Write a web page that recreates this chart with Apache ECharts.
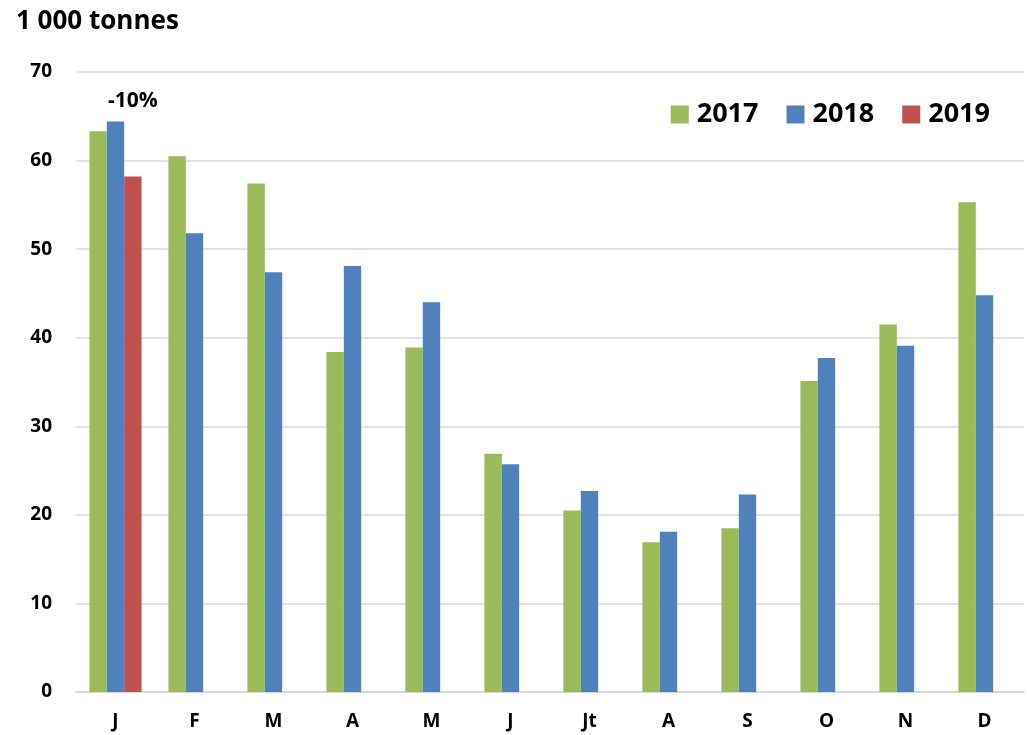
<!DOCTYPE html>
<html lang="fr">
<head>
    <meta charset="UTF-8">
    <title>1 000 tonnes</title>
    <style>
        html, body { margin: 0; padding: 0; background: #fff; }
        #chart { width: 1027px; height: 735px; }
    </style>
</head>
<body>
    <div id="chart"></div>
    <script src="https://cdn.jsdelivr.net/npm/echarts@6/dist/echarts.min.js"></script>
    <script>
        // mois
        const months = ['J', 'F', 'M', 'A', 'M', 'J', 'Jt', 'A', 'S', 'O', 'N', 'D'];
        const years = ['2017', '2018', '2019'];
        const v2017 = [63.3, 60.5, 57.4, 38.4, 38.9, 26.9, 20.5, 16.9, 18.5, 35.1, 41.5, 55.3];
        const v2018 = [64.4, 51.8, 47.4, 48.1, 44.0, 25.7, 22.7, 18.1, 22.3, 37.7, 39.1, 44.8];
        const v2019 = [58.2, null, null, null, null, null, null, null, null, null, null, null];
        const note = { text: '-10%', month: 0, y: 66.7 };

        const colors = ['#9BBB59', '#4F81BD', '#C0504D'];
        const font = '"Open Sans", sans-serif';

        const chart = echarts.init(document.getElementById('chart'));

        const bar = (name, values, color) => ({
            name: name,
            type: 'bar',
            data: values,
            barWidth: '22%',
            barGap: '0%',
            itemStyle: { color: color },
            emphasis: { disabled: true }
        });

        const s2019 = bar(years[2], v2019, colors[2]);
        s2019.markPoint = {
            symbol: 'rect',
            symbolSize: 0,
            data: [{ coord: [note.month, note.y] }],
            label: {
                show: true,
                position: 'inside',
                formatter: note.text,
                color: '#000',
                fontFamily: font,
                fontWeight: 'bold',
                fontSize: 21
            }
        };

        chart.setOption({
            animation: false,
            textStyle: { fontFamily: font },
            title: {
                text: '1 000 tonnes',
                left: 11,
                top: 4,
                textStyle: { fontFamily: font, fontWeight: 'bold', fontSize: 26, color: '#000' }
            },
            legend: {
                data: years,
                right: 32,
                top: 96,
                icon: 'rect',
                itemWidth: 18,
                itemHeight: 18,
                itemGap: 28,
                textStyle: { fontFamily: font, fontWeight: 'bold', fontSize: 27, color: '#000', padding: [0, 0, 0, 3] }
            },
            grid: { left: 76, right: 3, top: 72, bottom: 43 },
            xAxis: {
                type: 'category',
                data: months,
                axisLine: { lineStyle: { color: '#D9D9D9', width: 2 } },
                axisTick: { show: false },
                axisLabel: { color: '#000', fontFamily: font, fontWeight: 'bold', fontSize: 19, margin: 20 }
            },
            yAxis: {
                type: 'value',
                min: 0,
                max: 70,
                interval: 10,
                axisLine: { show: false },
                axisTick: { show: false },
                splitLine: { lineStyle: { color: '#D9D9D9', width: 1.5 } },
                axisLabel: { color: '#000', fontFamily: font, fontWeight: 'bold', fontSize: 19, margin: 24 }
            },
            series: [
                bar(years[0], v2017, colors[0]),
                bar(years[1], v2018, colors[1]),
                s2019
            ]
        });
    </script>
</body>
</html>
